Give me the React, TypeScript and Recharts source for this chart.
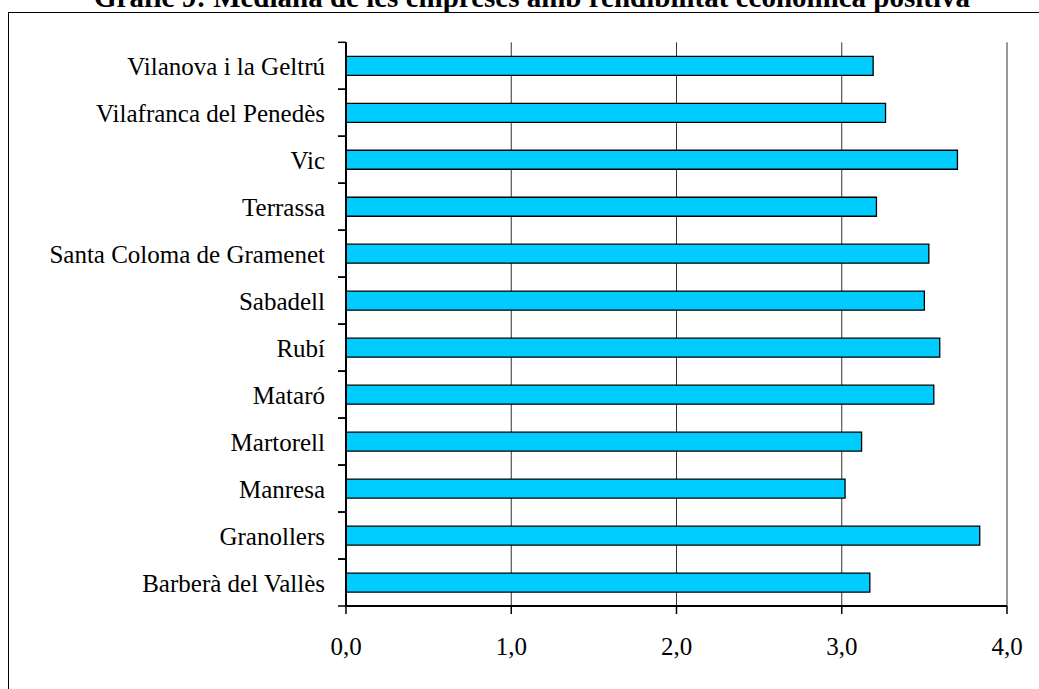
import { Bar, BarChart, CartesianGrid, XAxis, YAxis } from "recharts";

const cities = [
  "Barberà del Vallès",
  "Granollers",
  "Manresa",
  "Martorell",
  "Mataró",
  "Rubí",
  "Sabadell",
  "Santa Coloma de Gramenet",
  "Terrassa",
  "Vic",
  "Vilafranca del Penedès",
  "Vilanova i la Geltrú",
];

const medians = [3.17, 3.835, 3.02, 3.12, 3.557, 3.593, 3.5, 3.527, 3.21, 3.7, 3.265, 3.19];

const xTicks = [0, 1, 2, 3, 4];

const data = cities.map((name, i) => ({ name, value: medians[i] }));

const W = 1039;
const H = 689;
const FONT = "'Liberation Serif', 'Times New Roman', serif";
const PLOT_LEFT = 346;
const PLOT_TOP = 42.3;
const PLOT_BOTTOM = 606;
const BAND = (PLOT_BOTTOM - PLOT_TOP) / cities.length;

const fmt = (v: number) => v.toFixed(1).replace(".", ",");

function CityTick(props: any) {
  const { y, payload } = props;
  return (
    <g>
      <line x1={PLOT_LEFT - 8} x2={PLOT_LEFT} y1={y - BAND / 2} y2={y - BAND / 2} stroke="#000" strokeWidth={1.5} />
      <line x1={PLOT_LEFT - 8} x2={PLOT_LEFT} y1={y + BAND / 2} y2={y + BAND / 2} stroke="#000" strokeWidth={1.5} />
      <text x={PLOT_LEFT - 21} y={y} dy="0.36em" textAnchor="end" fill="#000" fontFamily={FONT} fontSize={25}>
        {payload.value}
      </text>
    </g>
  );
}

export default function App() {
  return (
    <div style={{ position: "absolute", left: 0, top: 0, width: W, height: H, background: "#fff", overflow: "hidden" }}>
      <svg width={W} height={H} style={{ position: "absolute", left: 0, top: 0 }}>
        <rect x={8.5} y={12.5} width={W + 20} height={H + 20} fill="none" stroke="#000" strokeWidth={1} />
        <text x={532} y={7} textAnchor="middle" fontFamily={FONT} fontWeight="bold" fontSize={29} fill="#000">
          Gràfic 9: Mediana de les empreses amb rendibilitat econòmica positiva
        </text>
      </svg>
      <div style={{ position: "absolute", left: 0, top: 0 }}>
        <BarChart
          width={W}
          height={H}
          data={data}
          layout="vertical"
          margin={{ top: PLOT_TOP, right: W - 1007, bottom: H - PLOT_BOTTOM - 30, left: 0 }}
          barSize={19}
        >
          <CartesianGrid horizontal={false} stroke="#333" strokeWidth={1} />
          <XAxis
            type="number"
            domain={[0, 4]}
            ticks={xTicks}
            interval={0}
            height={30}
            tickSize={8}
            tickMargin={23}
            tickFormatter={fmt}
            axisLine={{ stroke: "#000", strokeWidth: 2 }}
            tickLine={{ stroke: "#000", strokeWidth: 1.5 }}
            tick={{ fill: "#000", fontFamily: FONT, fontSize: 25 }}
          />
          <XAxis
            xAxisId="top"
            orientation="top"
            type="number"
            domain={[0, 4]}
            height={0}
            tick={false}
            tickLine={false}
            axisLine={{ stroke: "#555", strokeWidth: 1.5 }}
          />
          <YAxis
            type="category"
            dataKey="name"
            reversed
            width={PLOT_LEFT}
            interval={0}
            tickLine={false}
            axisLine={{ stroke: "#000", strokeWidth: 2 }}
            tick={<CityTick />}
          />
          <Bar dataKey="value" fill="#00CCFF" stroke="#000" strokeWidth={1.3} isAnimationActive={false} />
        </BarChart>
      </div>
    </div>
  );
}
